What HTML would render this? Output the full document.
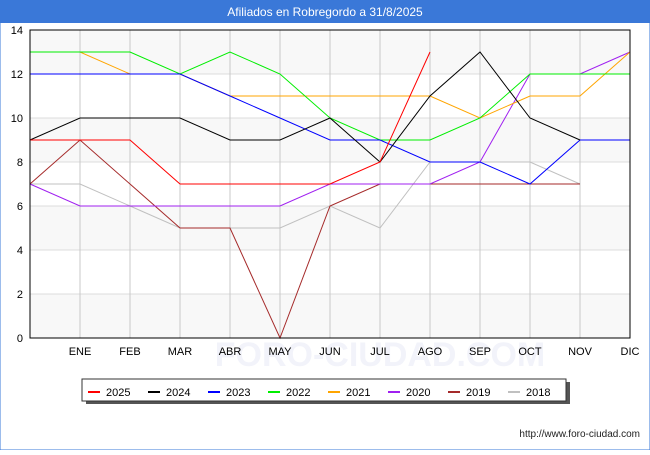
<!DOCTYPE html>
<html><head><meta charset="utf-8"><style>
body{margin:0;background:#fff;font-family:"Liberation Sans",sans-serif}
</style></head><body>
<svg width="650" height="450" xmlns="http://www.w3.org/2000/svg" font-family="Liberation Sans, sans-serif">
<rect x="0" y="0" width="650" height="450" fill="#fff" stroke="#3a78d8"/>
<rect x="0" y="0" width="650" height="23" fill="#3a78d8"/>
<text x="325" y="16" text-anchor="middle" font-size="12" fill="#fff">Afiliados en Robregordo a 31/8/2025</text>
<g id="plot"></g>
<text x="380" y="366" text-anchor="middle" font-size="34" fill="#f2f3fa" font-weight="bold">FORO-CIUDAD.COM</text>
<g id="axes"></g>
<rect x="86" y="382" width="484" height="22" fill="#555"/>
<rect x="82" y="379" width="484" height="22" fill="#fff" stroke="#333"/>
<g id="legend"></g>
<text x="640" y="437" text-anchor="end" font-size="10" fill="#222">http://www.foro-ciudad.com</text>
</svg>
<script>
const months=["","ENE","FEB","MAR","ABR","MAY","JUN","JUL","AGO","SEP","OCT","NOV","DIC"];
const yTicks=[0,2,4,6,8,10,12,14];
const seriesNames=["2025","2024","2023","2022","2021","2020","2019","2018"];
const seriesColors=["#ff0000","#000000","#0000ff","#00ee00","#ffa500","#a020f0","#a52a2a","#c0c0c0"];
const s2025=[9,9,9,7,7,7,7,8,13];
const s2024=[9,10,10,10,9,9,10,8,11,13,10,9];
const s2023=[12,12,12,12,11,10,9,9,8,8,7,9,9];
const s2022=[13,13,13,12,13,12,10,9,9,10,12,12,12];
const s2021=[13,13,12,12,11,11,11,11,11,10,11,11,13];
const s2020=[7,6,6,6,6,6,7,7,7,8,12,12,13];
const s2019=[7,9,7,5,5,0,6,7,7,7,7,7];
const s2018=[7,7,6,5,5,5,6,5,8,8,8,7];
const allSeries=[s2025,s2024,s2023,s2022,s2021,s2020,s2019,s2018];
const NS="http://www.w3.org/2000/svg";
const L=30,R=630,T=30,B=338;
const x=i=>L+i*(R-L)/12;
const y=v=>B-v*(B-T)/14;
function mk(tag,a,parent){const e=document.createElementNS(NS,tag);for(const k in a)e.setAttribute(k,a[k]);parent.appendChild(e);return e;}
const plot=document.getElementById('plot'),axes=document.getElementById('axes'),leg=document.getElementById('legend');
for(let k=0;k<7;k++){
  const r=mk('rect',{x:L,y:y(yTicks[k+1]),width:R-L,height:y(yTicks[k])-y(yTicks[k+1]),fill:k%2?'#ffffff':'#f8f8f8'},plot);
  
  
}
yTicks.forEach(v=>{
  const l=mk('line',{x1:L,x2:R,y1:y(v),y2:y(v),stroke:'#ddd'},plot);
  
  
  const t=mk('text',{x:L-7,y:y(v)+4,'text-anchor':'end','font-size':11,fill:'#000'},axes);
  t.textContent=v;
  
  
});
months.forEach((m,i)=>{
  const l=mk('line',{x1:x(i),x2:x(i),y1:T,y2:B,stroke:'#c8c8c8'},plot);
  
  
  if(m){const t=mk('text',{x:x(i),y:355,'text-anchor':'middle','font-size':11,fill:'#000'},axes);
  t.textContent=m;
  
  }
});
for(let s=allSeries.length-1;s>=0;s--){
  const pts=allSeries[s].map((v,i)=>x(i)+','+y(v)).join(' ');
  const p=mk('polyline',{points:pts,fill:'none',stroke:seriesColors[s],'stroke-width':1},plot);
  
  
}
const ax=mk('rect',{x:L,y:T,width:R-L,height:B-T,fill:'none',stroke:'#000'},axes);


seriesNames.forEach((n,i)=>{
  const lx=88+i*60;
  const g=mk('g',{},leg);
  
  
  mk('line',{x1:lx,x2:lx+12,y1:392,y2:392,stroke:seriesColors[i],'stroke-width':2},g);
  const t=mk('text',{x:lx+18,y:396,'font-size':11,fill:'#000'},g);
  t.textContent=n;
});
</script>
</body></html>
